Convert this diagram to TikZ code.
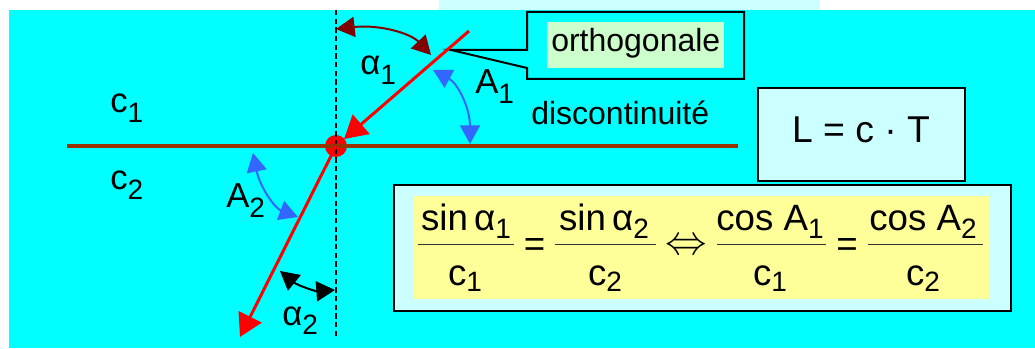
\documentclass[tikz,border=0pt]{standalone}
\usepackage{fontspec}
\setmainfont{Liberation Sans}
\usetikzlibrary{arrows.meta}
\definecolor{bgcyan}{HTML}{00FFFF}
\definecolor{lightcyan}{HTML}{CCFFFF}
\definecolor{paleyellow}{HTML}{FFFF99}
\definecolor{palegreen}{HTML}{CCFFCC}
\definecolor{brownline}{HTML}{993300}
\definecolor{darkred}{HTML}{800000}
\definecolor{arcblue}{HTML}{3366FF}
\newcommand\lsub[1]{\raisebox{-7pt}{\fontsize{21}{21}\selectfont #1}}
\newcommand\fsub[1]{\raisebox{-6.3pt}{\fontsize{21}{21}\selectfont #1}}
\newcommand\dsub[1]{\raisebox{-4.8pt}{\fontsize{21}{21}\selectfont #1}}
\begin{document}
\begin{tikzpicture}[x=0.75pt,y=-0.75pt,
  lbl/.style={anchor=base west, inner sep=0pt, font=\fontsize{26}{26}\selectfont},
  txt/.style={anchor=base west, inner sep=0pt, font=\fontsize{24}{24}\selectfont},
  ftxt/.style={anchor=base, inner sep=0pt, font=\fontsize{27.5}{27.5}\selectfont},
  ray/.style={red, line width=2.25pt, -{Triangle[length=17pt,width=19pt]}},
  angarc/.style={line width=1.5pt, {Triangle[length=14pt,width=15pt]}-{Triangle[length=14pt,width=15pt]}},
  fracrule/.style={line width=1.2pt, black!80},
  box/.style={draw=black, line width=1.5pt, fill=lightcyan, inner sep=0pt, anchor=north west},
]
\useasboundingbox (0,0) rectangle (1035,349);
\fill[white] (0,0) rectangle (1035,349);
\fill[bgcyan] (9,10) rectangle (1035,348);
\fill[lightcyan] (439,0) rectangle (820,10);

% callout
\draw[line width=1.5pt, fill=bgcyan] (451,50) -- (527,50) -- (527,12) -- (744,12) -- (744,79) -- (527,79) -- (527,68) -- cycle;
\node[fill=palegreen, inner sep=0pt, minimum width=132.75pt, minimum height=34.5pt, anchor=north west] (gbox) at (547,22) {};
\node[txt] (orth) at (551,52) {orthogonale};

% boxes
\node[box, minimum width=155.25pt, minimum height=70pt] (Lbox) at (757,87) {};
\node[anchor=base, inner sep=0pt, font=\fontsize{28}{28}\selectfont] (Ltxt) at (861,143) {L = c · T};
\node[box, minimum width=462.75pt, minimum height=94.5pt] (fbox) at (393,184) {};
\node[fill=paleyellow, inner sep=0pt, minimum width=432.75pt, minimum height=77.25pt, anchor=north west] (ybox) at (413,196) {};

% formula
\node[ftxt] (n1) at (466,230.5) {sin\,α\fsub{1}};
\node[ftxt] (d1) at (465,285) {c\dsub{1}};
\draw[fracrule] (418,244.5) -- (514,244.5);
\node[ftxt] (eq1) at (534.5,256) {=};
\node[ftxt] (n2) at (604,230.5) {sin\,α\fsub{2}};
\node[ftxt] (d2) at (605,285) {c\dsub{2}};
\draw[fracrule] (555,244.5) -- (656,244.5);
\node[ftxt, font=\fontsize{24.88}{24.88}\selectfont] (eqv) at (686.5,254) {\scalebox{1.25}{$\Leftrightarrow$}};
\node[ftxt] (n3) at (770,230.5) {cos A\fsub{1}};
\node[ftxt] (d3) at (770,285) {c\dsub{1}};
\draw[fracrule] (717,244.5) -- (826,244.5);
\node[ftxt] (eq2) at (847,256) {=};
\node[ftxt] (n4) at (923,230.5) {cos A\fsub{2}};
\node[ftxt] (d4) at (923,285) {c\dsub{2}};
\draw[fracrule] (867.5,244.5) -- (983,244.5);

% geometry
\node[circle, fill=red, minimum size=16.5pt, inner sep=0pt] (P) at (336,146) {};
\coordinate (vtop) at (336,10);
\coordinate (vbot) at (336,338);
\draw[line width=1pt, dash pattern=on 4pt off 2.5pt] (vtop) -- (vbot);
\coordinate (il) at (67,146);
\coordinate (ir) at (738,146);
\draw[brownline, line width=3pt] (il) -- (ir);
\coordinate (src) at (469,31);
\coordinate (dst) at (240,337);
\draw[ray, shorten >=8pt] (src) -- (P.center);
\draw[ray] (P.center) -- (dst);

% angle arcs
\coordinate (a1s) at (336,29);
\coordinate (a1e) at (431,55);
\draw[angarc, darkred] (a1s) .. controls (378.7,24.3) and (410.3,33) .. (a1e);
\coordinate (A1s) at (433,70);
\coordinate (A1e) at (470,144);
\draw[angarc, arcblue] (A1s) .. controls (457.7,83.3) and (470,108) .. (A1e);
\coordinate (A2s) at (253,153);
\coordinate (A2e) at (298,217);
\draw[angarc, arcblue] (A2s) .. controls (259.9,187) and (274.9,208.3) .. (A2e);
\coordinate (a2s) at (280,271);
\coordinate (a2e) at (335,290);
\draw[angarc, black] (a2s) .. controls (297.1,285.1) and (315.4,291.4) .. (a2e);

% labels
\node[lbl] (c1) at (110,113) {c\lsub{1}};
\node[lbl] (c2) at (110,190) {c\lsub{2}};
\node[lbl] (al1) at (360,75) {α\lsub{1}};
\node[lbl] (A1) at (475,94) {A\lsub{1}};
\node[lbl] (A2) at (226,208) {A\lsub{2}};
\node[lbl] (al2) at (282,325) {α\lsub{2}};
\node[txt] (disc) at (531,125) {discontinuité};
\end{tikzpicture}
\end{document}
